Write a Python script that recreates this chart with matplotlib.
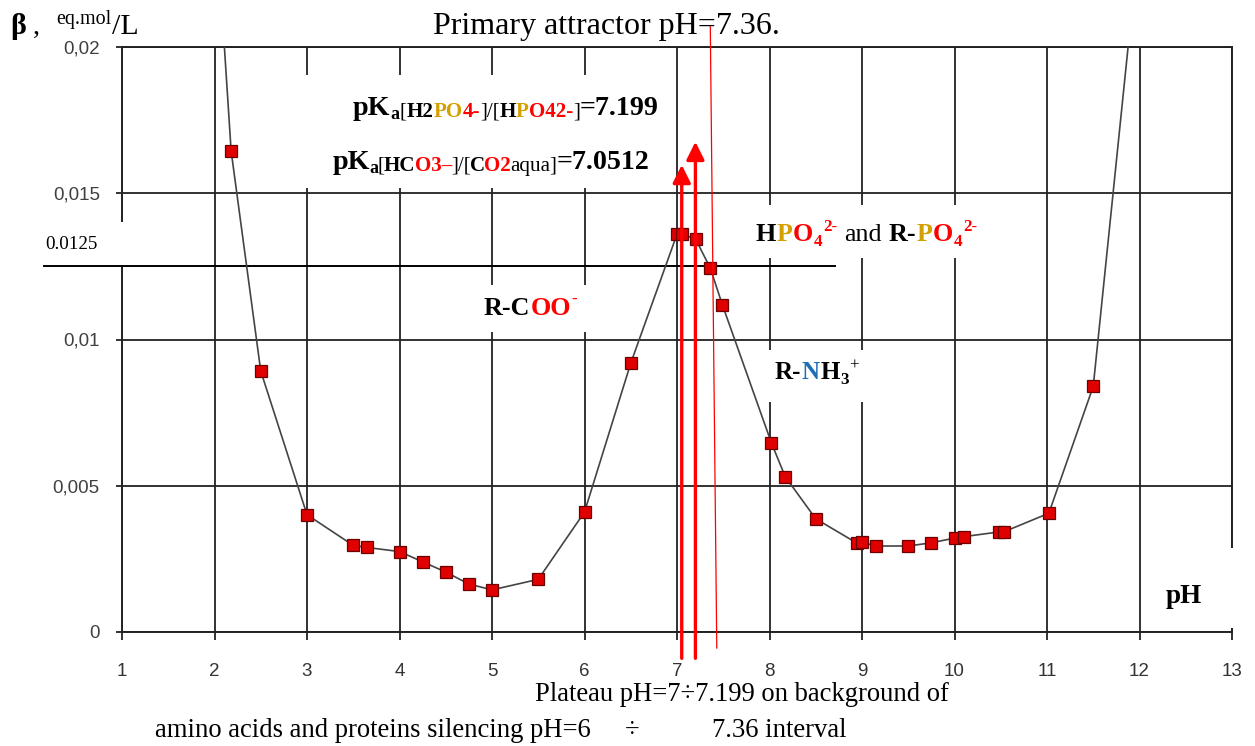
import numpy as np
import matplotlib
matplotlib.use('Agg')
import matplotlib.pyplot as plt
from matplotlib.patches import Rectangle

# buffer capacity curve
ph = [2.0, 2.18, 2.5, 3.0, 3.5, 3.65, 4.0, 4.25, 4.5, 4.75, 5.0, 5.5, 6.0, 6.5,
      7.0, 7.05, 7.2, 7.36, 7.49, 8.02, 8.17, 8.5, 8.95, 9.0, 9.15, 9.5, 9.75,
      10.0, 10.1, 10.48, 10.53, 11.02, 11.5, 12.0]
beta = [0.0252, 0.01644, 0.00892, 0.00401, 0.00296, 0.00289, 0.00275, 0.0024,
        0.00205, 0.00164, 0.00144, 0.0018, 0.0041, 0.00919, 0.0136, 0.0136,
        0.01344, 0.01244, 0.01119, 0.00647, 0.00531, 0.00387, 0.00303, 0.00307,
        0.00294, 0.00294, 0.00305, 0.00321, 0.00326, 0.00342, 0.00342, 0.00406,
        0.0084, 0.0238]

pka_vals = [7.0512, 7.199]
arrow_tops = [0.01597, 0.01676]
attractor = 7.36
level = 0.0125

yticks = [0, 0.005, 0.01, 0.015, 0.02]
ytick_labels = ['0', '0,005', '0,01', '0,015', '0,02']
xticks = list(range(1, 14))

W, H = 1255, 746
serif = 'Liberation Serif'
gold = '#D4A000'
red = '#FF0000'
blue = '#1F6EB4'
grid_c = '#222222'

fig = plt.figure(figsize=(W/100, H/100), dpi=100)
ax = fig.add_axes([122/W, 1-632/H, (1232-122)/W, (632-47)/H])
ax.set_xlim(1, 13)
ax.set_ylim(0, 0.02)
ax.set_xticks(xticks)
ax.set_xticklabels([str(t) for t in xticks])
ax.set_yticks(yticks)
ax.set_yticklabels(ytick_labels)
ax.tick_params(axis='x', length=6, width=1.3, pad=16, labelsize=13.5, labelcolor='#333333', color=grid_c)
ax.tick_params(axis='y', length=4, width=1.3, pad=12, labelsize=13.5, labelcolor='#404040', color=grid_c)
for lab in ax.get_xticklabels() + ax.get_yticklabels():
    lab.set_family('Liberation Sans')
for sp in ax.spines.values():
    sp.set_color(grid_c)
    sp.set_linewidth(1.4)
ax.grid(True, color=grid_c, lw=1.3)
ax.set_axisbelow(True)

# white label boxes hiding the grid, in figure pixels (x0, y0, x1, y1)
boxes = [(300, 75, 675, 188), (745, 205, 990, 258), (470, 285, 600, 332),
         (768, 350, 870, 402), (1150, 548, 1240, 628), (38, 222, 126, 265)]
for x0, y0, x1, y1 in boxes:
    ax.add_patch(Rectangle((x0/W, 1-y1/H), (x1-x0)/W, (y1-y0)/H, transform=fig.transFigure,
                           facecolor='white', edgecolor='none', zorder=2.6, clip_on=False))

# level line 0.0125
ax.plot([0.157, 8.71], [level, level], color='black', lw=1.4, zorder=2.7, clip_on=False)

ax.plot(ph, beta, color='#444444', lw=1.2, zorder=3,
        marker='s', ms=8, mfc='#E00000', mec='#6B0000', mew=0.9)

# pKa arrows and attractor line
for xv, top in zip(pka_vals, arrow_tops):
    ax.annotate('', xy=(xv, top), xytext=(xv, -0.0009), annotation_clip=False,
                arrowprops=dict(arrowstyle='-|>', color=red, lw=2.4, mutation_scale=27,
                                shrinkA=0, shrinkB=0), zorder=4)
ax.plot([attractor, attractor + 0.07], [0.0207, -0.00055], color=red, lw=0.9,
        zorder=4, clip_on=False)

renderer = fig.canvas.get_renderer()


def rich(x, y, parts, family=serif, kern=0.0):
    # parts: (text, color, size_px, weight, baseline shift px)
    for s, c, sz, w, dy in parts:
        if s == ' ':
            x += sz * 0.25
            continue
        t = fig.text(x/W, 1-(y-dy)/H, s, color=c, fontsize=sz/1.389, fontweight=w,
                     family=family, va='baseline', ha='left', zorder=5)
        x += t.get_window_extent(renderer).width + kern


fig.text(606/W, 1-34/H, 'Primary attractor pH=7.36.', ha='center', va='baseline',
         family=serif, fontsize=23, color='black')

rich(10, 34, [('β', 'black', 30, 'bold', 0), (' ', 'black', 30, 'normal', 0),
              (',', 'black', 28, 'normal', 0), (' ', 'black', 64, 'normal', 0),
              ('eq.mol', 'black', 20, 'normal', 10), ('/L', 'black', 30, 'normal', 0)])

rich(353, 115, [('pK', 'black', 28, 'bold', 0), ('a', 'black', 18, 'bold', -4),
                ('[', 'black', 21, 'normal', -2), ('H2', 'black', 21, 'bold', -2),
                ('PO', gold, 21, 'bold', -2), ('4-', red, 21, 'bold', -2),
                (']/[', 'black', 21, 'normal', -2), ('H', 'black', 21, 'bold', -2),
                ('P', gold, 21, 'bold', -2), ('O42-', red, 21, 'bold', -2),
                (']', 'black', 21, 'normal', -2), ('=7.199', 'black', 28, 'bold', 0)])

rich(333, 169, [('pK', 'black', 28, 'bold', 0), ('a', 'black', 18, 'bold', -4),
                ('[', 'black', 21, 'normal', -2), ('HC', 'black', 21, 'bold', -2),
                ('O3–', red, 21, 'bold', -2), (']/[', 'black', 21, 'normal', -2),
                ('C', 'black', 21, 'bold', -2), ('O2', red, 21, 'bold', -2),
                ('aqua]', 'black', 21, 'normal', -2), ('=7.0512', 'black', 28, 'bold', 0)],
     kern=-0.8)

rich(756, 241, [('H', 'black', 26, 'bold', 0), ('P', gold, 26, 'bold', 0),
                ('O', red, 26, 'bold', 0), ('4', red, 17, 'bold', -5),
                ('2-', red, 17, 'bold', 10), (' ', 'black', 26, 'normal', 0),
                ('and', 'black', 26, 'normal', 0), (' ', 'black', 26, 'normal', 0),
                ('R-', 'black', 26, 'bold', 0), ('P', gold, 26, 'bold', 0),
                ('O', red, 26, 'bold', 0), ('4', red, 17, 'bold', -5),
                ('2-', red, 17, 'bold', 10)], kern=0.5)

rich(484, 315, [('R-C', 'black', 26, 'bold', 0), ('OO', red, 26, 'bold', 0),
                ('-', red, 17, 'bold', 11)], kern=0.5)

rich(775, 379, [('R-', 'black', 25, 'bold', 0), ('N', blue, 25, 'bold', 0),
                ('H', 'black', 25, 'bold', 0), ('3', 'black', 17, 'bold', -5),
                ('+', 'black', 17, 'normal', 9)], kern=0.5)

fig.text(1166/W, 1-603/H, 'pH', family=serif, fontsize=27/1.389, fontweight='bold',
         va='baseline', ha='left')
fig.text(45/W, 1-249/H, '0.0125', family=serif, fontsize=19/1.389, va='baseline', ha='left')

fig.text(535/W, 1-701/H, 'Plateau pH=7÷7.199 on background of', family=serif,
         fontsize=19.2, va='baseline', ha='left')
fig.text(155/W, 1-737/H, 'amino acids and proteins silencing pH=6', family=serif,
         fontsize=19.2, va='baseline', ha='left')
fig.text(632/W, 1-737/H, '÷', family=serif, fontsize=19.2, va='baseline', ha='center')
fig.text(712/W, 1-737/H, '7.36 interval', family=serif, fontsize=19.2, va='baseline', ha='left')

fig.savefig('out.png', dpi=100)
